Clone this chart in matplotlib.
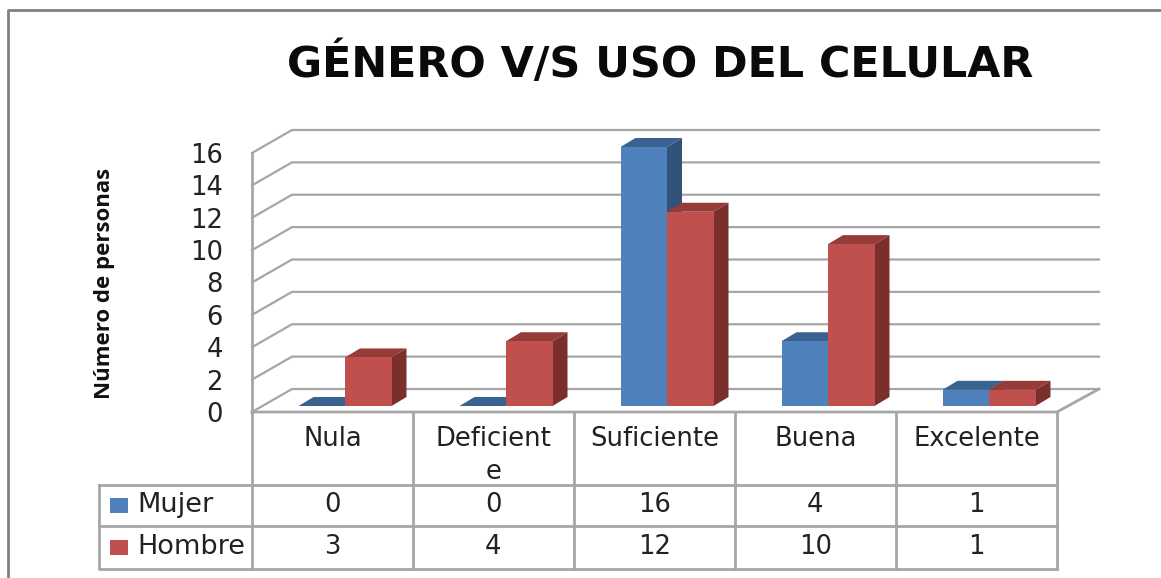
import matplotlib
matplotlib.use("Agg")
import matplotlib.pyplot as plt
from matplotlib.patches import Polygon, Rectangle
from matplotlib.transforms import Affine2D

plt.rcParams["font.family"] = ["DejaVu Sans"]

categories = ["Nula", "Deficient\ne", "Suficiente", "Buena", "Excelente"]
mujer = [0, 0, 16, 4, 1]
hombre = [3, 4, 12, 10, 1]
series = ["Mujer", "Hombre"]
yticks = [0, 2, 4, 6, 8, 10, 12, 14, 16]

W, H = 1161, 578
GRID = "#a6a6a6"
BLUE = ("#4F81BD", "#3A6291", "#31537A")
RED = ("#C0504D", "#963B38", "#7B2F2D")
FS = 18.6
TXT = "#222222"

fig = plt.figure(figsize=(W / 100, H / 100), dpi=100, facecolor="white")

# overlay in pixel coordinates for frame, table rules and labels
ov = fig.add_axes([0, 0, 1, 1], zorder=0)
ov.set_xlim(0, W)
ov.set_ylim(H, 0)
ov.axis("off")

L, R, Y0, Y16 = 252, 1057, 412, 153
ax = fig.add_axes([L / W, 1 - Y0 / H, (R - L) / W, (Y0 - Y16) / H], zorder=1)
ax.patch.set_alpha(0)
ax.set_xlim(0, 5)
ax.set_ylim(0, 16)
for s in ax.spines.values():
    s.set_visible(False)

PX = 5 / (R - L)
PY = 16 / (Y0 - Y16)
WALL_X, WALL_Y = 40 * PX, 23 * PY

# walls and floor
for v in yticks:
    ax.plot([0, WALL_X, 5 + 42 * PX], [v, v + WALL_Y, v + WALL_Y],
            color=GRID, lw=1.6, clip_on=False, zorder=1)
ax.plot([0, 0], [0, 16], color=GRID, lw=2, clip_on=False, zorder=1)
ax.plot([0, 5, 5 + 42 * PX], [0, 0, WALL_Y], color=GRID, lw=2, clip_on=False, zorder=1)

# 3D columns
shift = ax.transData + Affine2D().translate(12.5, 6)
BW = 46.5 * PX
DX, DY = 15 * PX, 9 * PY


def column(x0, v, cols, z):
    x1 = x0 + BW
    ax.bar(x0, v, BW, align="edge", color=cols[0], transform=shift, clip_on=False, zorder=z + 0.2)
    ax.add_patch(Polygon([(x0, v), (x1, v), (x1 + DX, v + DY), (x0 + DX, v + DY)],
                         fc=cols[1], ec="none", transform=shift, clip_on=False, zorder=z))
    ax.add_patch(Polygon([(x1, 0), (x1, v), (x1 + DX, v + DY), (x1 + DX, DY)],
                         fc=cols[2], ec="none", transform=shift, clip_on=False, zorder=z + 0.1))


for i, (m, h) in enumerate(zip(mujer, hombre)):
    x_m = i + 0.5 - BW
    column(x_m, m, BLUE, 2 + i)
    column(x_m + BW, h, RED, 2.5 + i)

ax.set_yticks(yticks)
ax.tick_params(axis="y", length=0, pad=21, labelsize=FS, labelcolor=TXT)
ax.set_xticks([i + 0.5 for i in range(5)])
ax.set_xticklabels(categories, fontsize=FS, color=TXT, linespacing=1.38)
ax.tick_params(axis="x", length=0, pad=10)
ax.set_ylabel("Número de personas", fontsize=16, fontweight="bold",
              family="Open Sans", color="#111111", labelpad=0)
ax.yaxis.set_label_coords(-137 / (R - L), (Y0 - 283) / (Y0 - Y16))

fig.text(660.5 / W, 1 - 77 / H, "GÉNERO V/S USO DEL CELULAR", fontsize=30.9, fontweight="bold",
         family="DejaVu Sans", color="#0a0a0a", ha="center", va="baseline")

# outer frame
FRAME = "#808080"
ov.plot([8, 8, W], [H, 10, 10], color=FRAME, lw=2)

# data table
T0, T1, T2, TL = 485, 526, 569, 99
col_w = (R - L) / 5
for i in range(6):
    x = L + i * col_w
    ov.plot([x, x], [Y0, T2], color=GRID, lw=2)
ov.plot([TL, R], [T0, T0], color=GRID, lw=2)
ov.plot([TL, R], [T1, T1], color=GRID, lw=2)
ov.plot([TL, TL, R], [T0, T2, T2], color=GRID, lw=2)

rows = [(505, mujer, series[0], BLUE[0]), (547, hombre, series[1], RED[0])]
for yc, vals, name, c in rows:
    ov.add_patch(Rectangle((110, yc - 7.5), 18, 15, fc=c, ec="none"))
    ov.text(137, yc, name, fontsize=19.5, color=TXT, va="center", ha="left")
    for i, v in enumerate(vals):
        ov.text(L + (i + 0.5) * col_w, yc, str(v), fontsize=FS, color=TXT, va="center", ha="center")

fig.savefig("out.png", dpi=100, facecolor="white")
